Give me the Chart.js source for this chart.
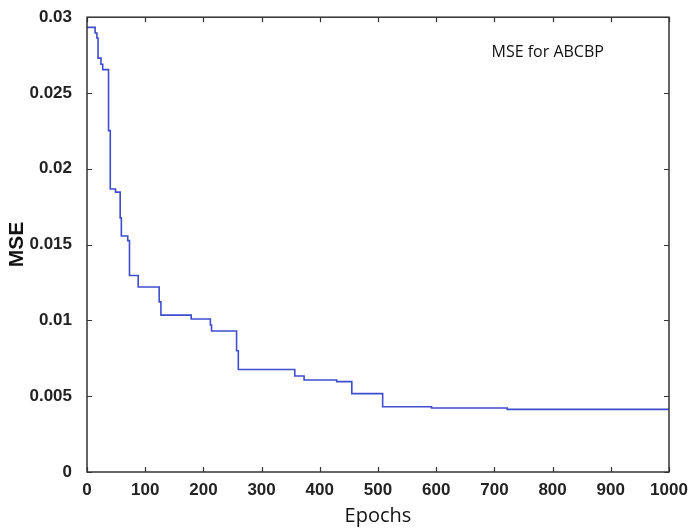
<!DOCTYPE html>
<html>
<head>
<meta charset="utf-8">
<script src="https://cdn.jsdelivr.net/npm/chart.js@4/dist/chart.umd.min.js"></script>
<style>
    html, body { margin: 0; padding: 0; background: #fff; }
    #wrap { width: 691px; height: 530px; }
</style>
</head>
<body>
<div id="wrap"><canvas id="chart-mse"></canvas></div>
<script>
// epochs where the MSE steps down, and the value held from that epoch on
const epochs = [0, 14, 17, 19, 24, 27, 37, 40, 49, 57, 59, 70, 73, 88, 124, 127, 179, 212, 214, 257, 260, 357, 373, 429, 455, 508, 592, 722, 1000];
const mseValues = [0.02933, 0.02896, 0.02863, 0.0273, 0.0269, 0.02654, 0.02252, 0.01867, 0.01846, 0.01676, 0.01557, 0.01526, 0.01296, 0.0122, 0.01122, 0.01035, 0.01009, 0.0097, 0.0093, 0.0080, 0.00676, 0.00633, 0.00607, 0.00596, 0.00517, 0.0043, 0.00422, 0.00413, 0.00413];
const xTicks = [0, 100, 200, 300, 400, 500, 600, 700, 800, 900, 1000];
const yTicks = [0, 0.005, 0.01, 0.015, 0.02, 0.025, 0.03];
const legendText = 'MSE for ABCBP';
const legendAt = [695, 0.0277];

document.addEventListener('DOMContentLoaded', function () {
    const ctx = document.getElementById('chart-mse').getContext('2d');
    const tickFont = { family: '"Liberation Sans", Arial, sans-serif', size: 17, weight: 'bold' };

    // matlab-like box with inward ticks on all four sides
    const boxPlugin = {
        id: 'box',
        afterDraw(chart) {
            const c = chart.ctx;
            const a = chart.chartArea;
            const sx = chart.scales.x;
            const sy = chart.scales.y;
            const len = 5;
            c.save();
            c.strokeStyle = '#333';
            c.lineWidth = 1.5;
            c.strokeRect(a.left, a.top, a.right - a.left, a.bottom - a.top);
            c.lineWidth = 1.2;
            c.beginPath();
            xTicks.forEach(v => {
                const px = Math.round(sx.getPixelForValue(v)) + 0.5;
                c.moveTo(px, a.bottom); c.lineTo(px, a.bottom - len);
                c.moveTo(px, a.top); c.lineTo(px, a.top + len);
            });
            yTicks.forEach(v => {
                const py = Math.round(sy.getPixelForValue(v)) + 0.5;
                c.moveTo(a.left, py); c.lineTo(a.left + len, py);
                c.moveTo(a.right, py); c.lineTo(a.right - len, py);
            });
            c.stroke();

            c.fillStyle = '#111';
            c.font = '16px "Open Sans", sans-serif';
            c.textAlign = 'left';
            c.textBaseline = 'middle';
            c.fillText(legendText, sx.getPixelForValue(legendAt[0]), sy.getPixelForValue(legendAt[1]));
            c.restore();
        }
    };

    new Chart(ctx, {
        type: 'line',
        data: {
            datasets: [{
                label: 'MSE',
                data: epochs.map((e, i) => ({ x: e, y: mseValues[i] })),
                stepped: true,
                borderColor: '#3e4ccf',
                borderWidth: 1.6,
                pointRadius: 0,
                fill: false
            }]
        },
        options: {
            responsive: true,
            maintainAspectRatio: false,
            animation: false,
            layout: { padding: { top: 12, right: 22, left: 0, bottom: 0 } },
            scales: {
                x: {
                    type: 'linear',
                    min: 0,
                    max: 1000,
                    afterBuildTicks: scale => { scale.ticks = xTicks.map(v => ({ value: v })); },
                    afterFit: scale => { scale.height = 58; },
                    grid: { display: false },
                    border: { display: false },
                    ticks: {
                        color: '#222',
                        font: tickFont,
                        padding: 0,
                        maxRotation: 0,
                        autoSkip: false,
                        callback: v => String(v)
                    },
                    title: {
                        display: true,
                        text: 'Epochs',
                        color: '#111',
                        font: { family: '"Open Sans", sans-serif', size: 20 },
                        padding: { top: 0, bottom: 2 }
                    }
                },
                y: {
                    min: 0,
                    max: 0.03,
                    afterBuildTicks: scale => { scale.ticks = yTicks.map(v => ({ value: v })); },
                    afterFit: scale => { scale.width = 87; },
                    grid: { display: false },
                    border: { display: false },
                    ticks: {
                        color: '#222',
                        font: tickFont,
                        padding: 7,
                        autoSkip: false,
                        callback: v => String(+v.toFixed(3))
                    },
                    title: {
                        display: true,
                        text: 'MSE',
                        color: '#111',
                        font: { family: '"Liberation Sans", Arial, sans-serif', size: 21, weight: 'bold' },
                        padding: { top: 5, bottom: 0 }
                    }
                }
            },
            plugins: {
                legend: { display: false },
                tooltip: { enabled: false }
            }
        },
        plugins: [boxPlugin]
    });
});
</script>
</body>
</html>
